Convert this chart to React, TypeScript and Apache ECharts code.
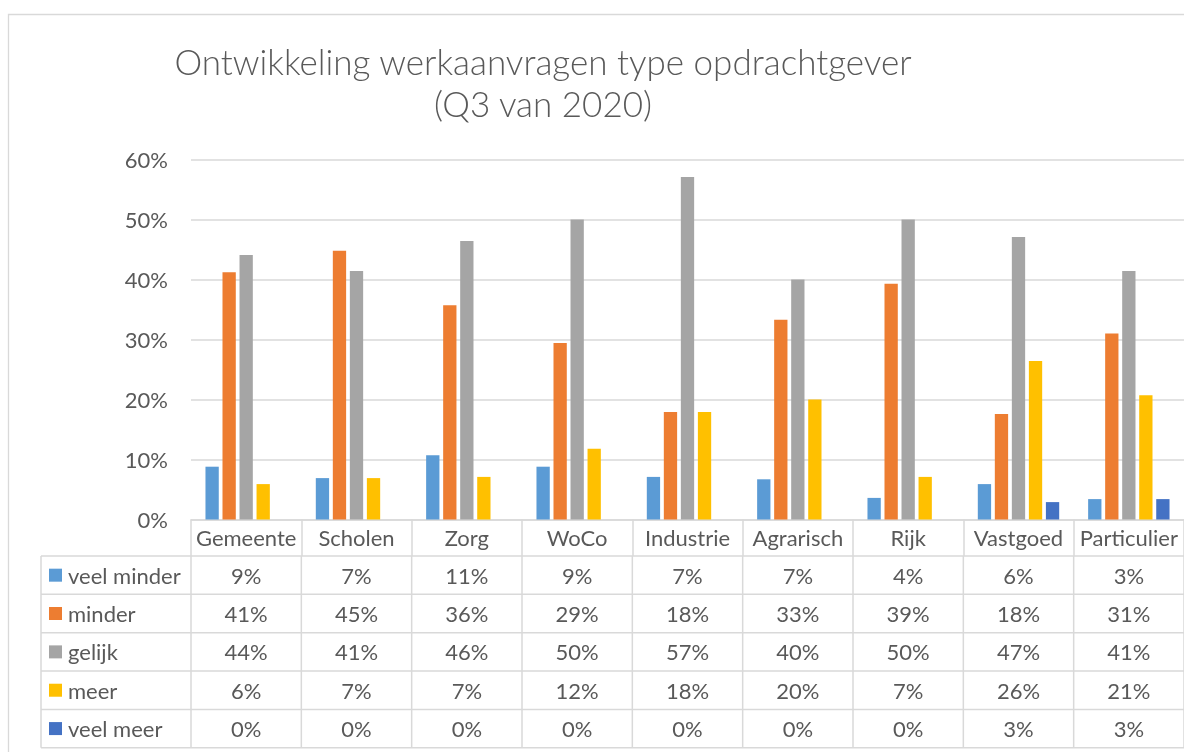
import React, { useEffect, useRef } from "react";
import * as echarts from "echarts";

const categories = ["Gemeente", "Scholen", "Zorg", "WoCo", "Industrie", "Agrarisch", "Rijk", "Vastgoed", "Particulier"];
const seriesNames = ["veel minder", "minder", "gelijk", "meer", "veel meer"];
const veelMinder = [8.8, 6.9, 10.7, 8.8, 7.1, 6.7, 3.6, 5.9, 3.4];
const minder = [41.2, 44.8, 35.7, 29.4, 17.9, 33.3, 39.3, 17.6, 31.0];
const gelijk = [44.1, 41.4, 46.4, 50.0, 57.1, 40.0, 50.0, 47.1, 41.4];
const meer = [5.9, 6.9, 7.1, 11.8, 17.9, 20.0, 7.1, 26.4, 20.7];
const veelMeer = [0, 0, 0, 0, 0, 0, 0, 2.9, 3.4];
const yTicks = [0, 10, 20, 30, 40, 50, 60];
const titleLines = ["Ontwikkeling werkaanvragen type opdrachtgever", "(Q3 van 2020)"];

const colors = ["#5B9BD5", "#ED7D31", "#A5A5A5", "#FFC000", "#4472C4"];
const FONT = "Lato";
const TXT = "#595959";
const LINE = "#d9d9d9";
const FS = 22;

export default function App() {
  const ref = useRef<HTMLDivElement>(null);
  useEffect(() => {
    if (!ref.current) return;
    const chart = echarts.init(ref.current, undefined, { renderer: "svg" });
    const allSeries = [veelMinder, minder, gelijk, meer, veelMeer];

    const gridLeft = 191;
    const gridRight = 0;
    const gridTop = 159.5;
    const gridH = 360;
    const W = 1184 - gridLeft - gridRight;
    const cw = W / categories.length;
    const tableLeft = 41;
    const headerBottom = 556;
    const rowH = 38.35;
    const tableBottom = headerBottom + rowH * seriesNames.length;

    const graphics: any[] = [];
    graphics.push({
      type: "rect",
      shape: { x: 8.5, y: 14.5, width: 1300, height: 900 },
      style: { fill: "none", stroke: LINE, lineWidth: 1.3 },
      silent: true,
    });
    titleLines.forEach((t, i) => {
      graphics.push({
        type: "text",
        x: 543,
        y: 61 + i * 42,
        style: { text: t, fill: TXT, font: `300 35px ${FONT}`, align: "center", verticalAlign: "middle" },
      });
    });
    for (let i = 0; i <= seriesNames.length; i++) {
      const y = headerBottom + i * rowH;
      graphics.push({
        type: "line",
        shape: { x1: tableLeft, y1: y, x2: 1184, y2: y },
        style: { stroke: LINE, lineWidth: 1.5 },
      });
    }
    graphics.push({
      type: "line",
      shape: { x1: tableLeft, y1: headerBottom, x2: tableLeft, y2: tableBottom },
      style: { stroke: LINE, lineWidth: 1.5 },
    });
    for (let j = 0; j <= categories.length; j++) {
      const x = gridLeft + j * cw;
      graphics.push({
        type: "line",
        shape: { x1: x, y1: headerBottom, x2: x, y2: tableBottom },
        style: { stroke: LINE, lineWidth: 1.5 },
      });
    }
    seriesNames.forEach((name, r) => {
      const cy = headerBottom + (r + 0.5) * rowH;
      graphics.push({
        type: "rect",
        shape: { x: 49, y: cy - 6.5, width: 13, height: 13 },
        style: { fill: colors[r] },
      });
      graphics.push({
        type: "text",
        x: 68,
        y: cy,
        style: { text: name, fill: TXT, font: `${FS}px ${FONT}`, align: "left", verticalAlign: "middle" },
      });
      allSeries[r].forEach((v, j) => {
        graphics.push({
          type: "text",
          x: gridLeft + (j + 0.5) * cw,
          y: cy,
          style: { text: Math.round(v) + "%", fill: TXT, font: `${FS}px ${FONT}`, align: "center", verticalAlign: "middle" },
        });
      });
    });

    chart.setOption({
      animation: false,
      textStyle: { fontFamily: FONT },
      grid: { left: gridLeft, right: gridRight, top: gridTop, height: gridH, containLabel: false },
      xAxis: {
        type: "category",
        data: categories,
        axisLine: { show: true, lineStyle: { color: LINE, width: 1.5 } },
        axisTick: { show: true, length: 36.5, lineStyle: { color: LINE, width: 1.5 } },
        axisLabel: { color: TXT, fontSize: FS, margin: 7, interval: 0, fontFamily: FONT },
        splitLine: { show: false },
      },
      yAxis: {
        type: "value",
        min: yTicks[0],
        max: yTicks[yTicks.length - 1],
        interval: 10,
        axisLine: { show: false },
        axisTick: { show: false },
        axisLabel: { color: TXT, fontSize: FS, margin: 23, formatter: "{value}%", fontFamily: FONT },
        splitLine: { lineStyle: { color: LINE, width: 1.5 } },
      },
      series: allSeries.map((d, i) => ({
        name: seriesNames[i],
        type: "bar",
        data: d,
        barWidth: 13.3,
        barGap: "28%",
        itemStyle: { color: colors[i] },
      })),
      graphic: graphics,
    });
    return () => chart.dispose();
  }, []);
  return <div ref={ref} style={{ position: "fixed", left: 0, top: 0, width: 1184, height: 752 }} />;
}
